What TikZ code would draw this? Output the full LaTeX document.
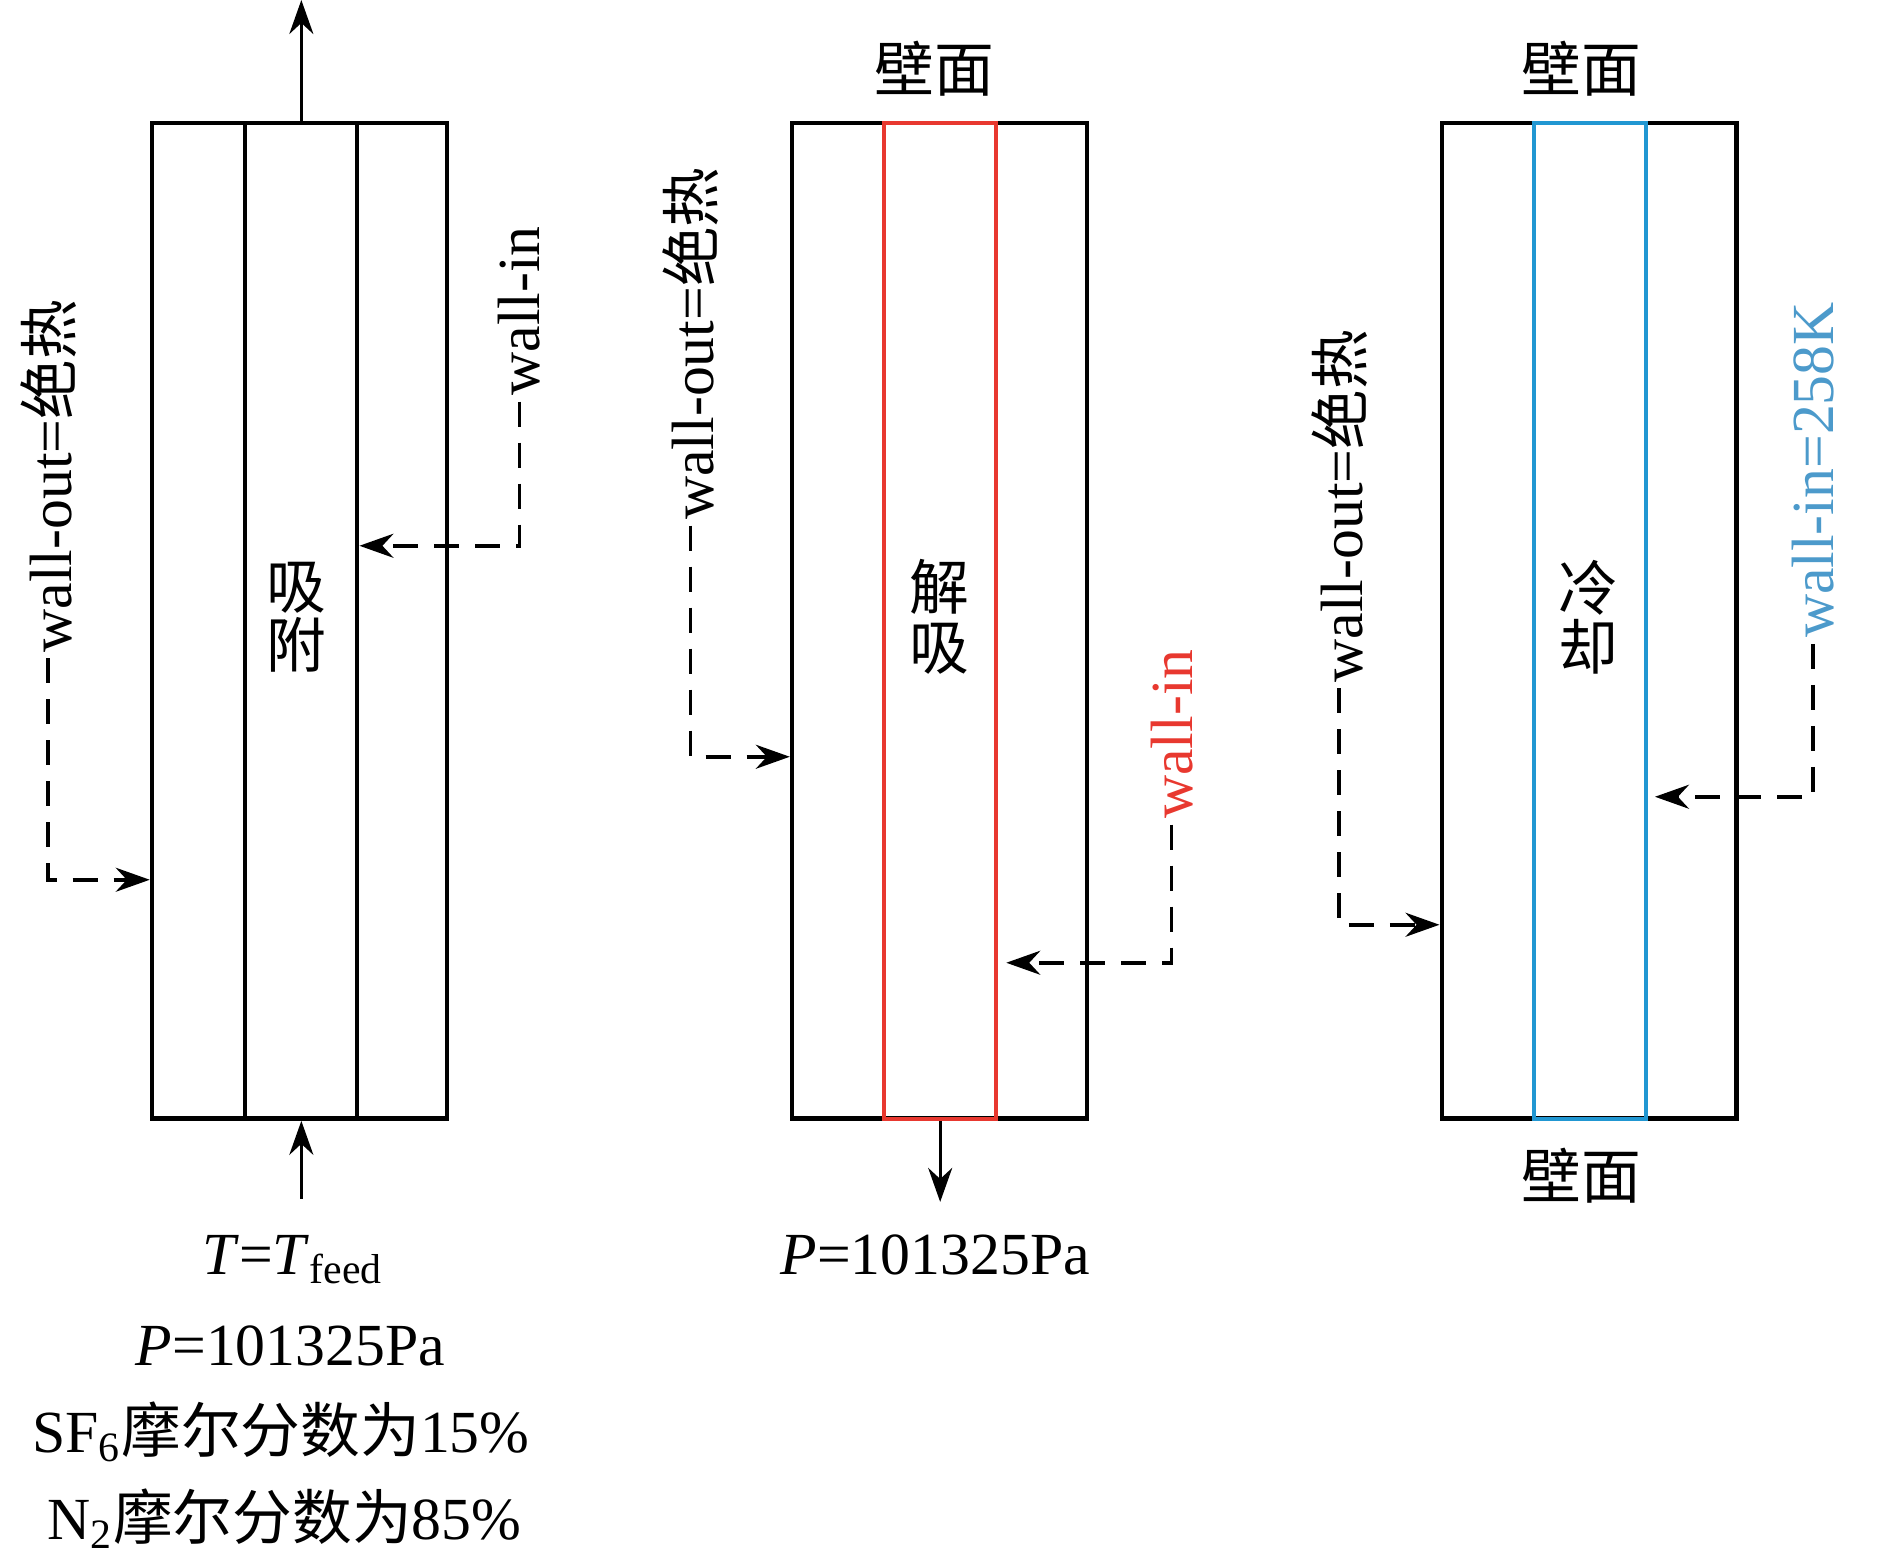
\documentclass[tikz,border=0pt]{standalone}
\usepackage{fontspec}
\setmainfont{Liberation Serif}
\newfontfamily\cjk{Noto Sans CJK SC}
\usetikzlibrary{arrows.meta}
\definecolor{rot}{HTML}{E8382F}
\definecolor{blau}{HTML}{2197D2}
\definecolor{blaut}{HTML}{4C9ACB}
\newcommand{\zh}[1]{{\cjk #1}}
\tikzset{
  wand/.style={draw,line width=1.3pt,inner sep=0pt,minimum width=2.95cm,minimum height=9.96cm},
  kern/.style={draw,line width=1.2pt,inner sep=0pt,minimum width=1.12cm,minimum height=9.96cm},
  pfeil/.style={-{Stealth[length=3.4mm,width=2.4mm]},line width=0.9pt},
  gestr/.style={pfeil,line width=1pt,dash pattern=on 2.5mm off 1.6mm},
  lab/.style={rotate=90,inner sep=1.5pt},
  txt/.style={font=\fontsize{17}{20}\selectfont},
  zwei/.style={align=center,font=\fontsize{17}{17}\selectfont},
}

\begin{document}
\begin{tikzpicture}[x=0.012054cm,y=-0.012054cm,every node/.append style={txt}]
  \useasboundingbox (0,0) rectangle (1568,1295);
  % Adsorption
  \node[wand] (aus1) at (248.5,515) {};
  \node[kern] (kern1) at (250,515) {};
  \node[zwei] (ads) at (246,512) {\zh{吸}\\\zh{附}};
  \coordinate (oben1) at (250,0);
  \draw[pfeil] (kern1.north) -- (oben1);
  \node[anchor=base] (tf) at (243,1057) {\textit{T}=\textit{T}\textsubscript{feed}};
  \node[anchor=base] (p1) at (241,1133) {\textit{P}=101325Pa};
  \node[anchor=base] (sf) at (233,1205) {SF\textsubscript{6}\zh{摩尔分数为}15\%};
  \node[anchor=base] (nz) at (236,1277) {N\textsubscript{2}\zh{摩尔分数为}85\%};
  \draw[pfeil,shorten <=2.4mm] (kern1.south |- tf.north) -- (kern1.south);
  \node[lab] (wo1) at (40,395) {wall-out=\zh{绝热}};
  \draw[gestr] (wo1.west) |- ([yshift=-2.59cm]aus1.west);
  \node[lab] (wi1) at (431,258) {wall-in};
  \draw[gestr] (wi1.west) |- ([yshift=0.75cm]kern1.east);

  % Desorption
  \node[wand] (aus2) at (779.5,515) {};
  \node[kern,draw=rot] (kern2) at (780,515) {};
  \node[zwei] (des) at (779,512) {\zh{解}\\\zh{吸}};
  \node (w2) at (775,57) {\zh{壁面}};
  \node[anchor=base] (p2) at (776,1057) {\textit{P}=101325Pa};
  \draw[pfeil,shorten >=2mm] (kern2.south) -- (kern2.south |- p2.north);
  \node[lab] (wo2) at (573,285) {wall-out=\zh{绝热}};
  \draw[gestr] (wo2.west) |- ([yshift=-1.36cm]aus2.west);
  \node[lab,text=rot] (wi2) at (972,609) {wall-in};
  \draw[gestr,shorten >=0.8mm] (wi2.west) |- ([yshift=-3.42cm]kern2.east);

  % Cooling
  \node[wand] (aus3) at (1318.5,515) {};
  \node[kern,draw=blau] (kern3) at (1319,515) {};
  \node[zwei] (kuehl) at (1318,512) {\zh{冷}\\\zh{却}};
  \node (w3o) at (1312,57) {\zh{壁面}};
  \node (w3u) at (1312,975) {\zh{壁面}};
  \node[lab] (wo3) at (1111,420) {wall-out=\zh{绝热}};
  \draw[gestr] (wo3.west) |- ([yshift=-3.04cm]aus3.west);
  \node[lab,text=blaut] (wi3) at (1504,390) {wall-in=258K};
  \draw[gestr,shorten >=0.7mm] (wi3.west) |- ([yshift=-1.76cm]kern3.east);
\end{tikzpicture}
\end{document}
